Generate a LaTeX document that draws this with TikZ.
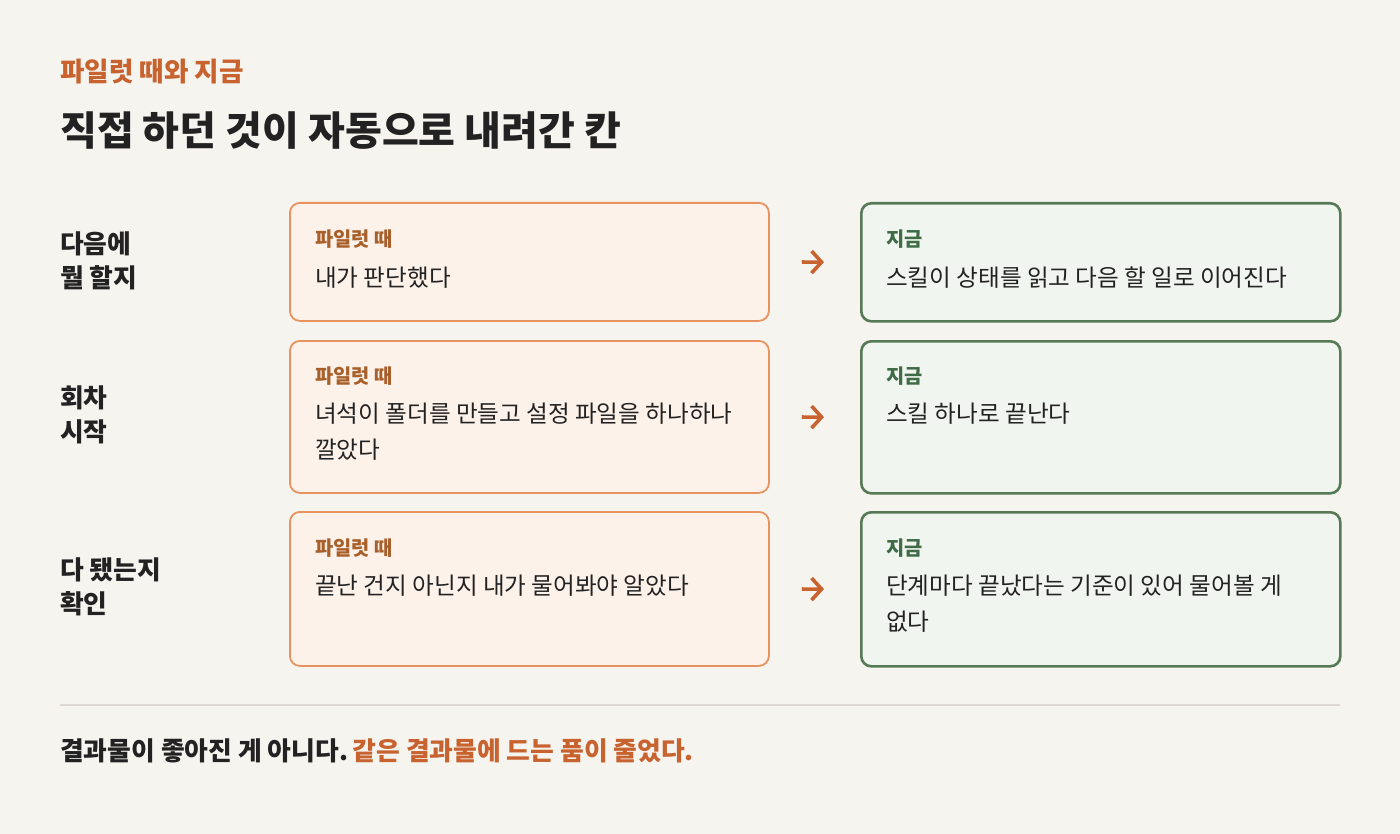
\documentclass[tikz,border=0pt]{standalone}
\usepackage{fontspec}
\setmainfont{Noto Sans CJK KR}
\usetikzlibrary{arrows.meta}
\definecolor{bgc}{HTML}{F6F4EF}
\definecolor{accent}{HTML}{C8632F}
\definecolor{obord}{HTML}{E8935F}
\definecolor{ofill}{HTML}{FDF2EA}
\definecolor{otag}{HTML}{A8602A}
\definecolor{gbord}{HTML}{557A55}
\definecolor{gfill}{HTML}{F1F5EF}
\definecolor{gtag}{HTML}{3F6B47}
\definecolor{ink}{HTML}{222222}
\definecolor{rule}{HTML}{DDD9D2}
\tikzset{
  oldbox/.style={draw=obord, fill=ofill, line width=1.8pt, rounded corners=10pt, anchor=north west, minimum width=479pt, inner sep=0pt},
  newbox/.style={draw=gbord, fill=gfill, line width=2.6pt, rounded corners=10pt, anchor=north west, minimum width=479pt, inner sep=0pt},
  otagt/.style={anchor=west, inner sep=0pt, text=otag, font=\fontsize{19.8}{22}\selectfont\bfseries},
  gtagt/.style={anchor=west, inner sep=0pt, text=gtag, font=\fontsize{19.8}{22}\selectfont\bfseries},
  bodyt/.style={anchor=north west, inner sep=0pt, text=ink, align=left, font=\fontsize{23.6}{36}\selectfont},
  rowlab/.style={anchor=west, inner sep=0pt, text=ink, align=left, font=\fontsize{25.8}{34}\selectfont\bfseries},
  arr/.style={draw=accent, line width=3.6pt, -{Straight Barb[length=10pt, width=22pt, line width=3.6pt]}, shorten <=32pt, shorten >=36pt}
}
\begin{document}
\begin{tikzpicture}[x=1pt, y=-1pt]
\fill[bgc] (0,0) rectangle (1400,834);
\useasboundingbox (0,0) rectangle (1400,834);

\node[anchor=west, inner sep=0pt, text=accent, font=\fontsize{26.6}{30}\selectfont\bfseries] (eyebrow) at (60,72) {파일럿 때와 지금};
\node[anchor=west, inner sep=0pt, text=ink, font=\fontsize{40}{44}\selectfont\bfseries] (title) at (60,131) {직접 하던 것이 자동으로 내려간 칸};

% row 1
\node[oldbox, minimum height=118pt] (L1) at (289,202) {};
\node[newbox, minimum height=118pt] (R1) at (860,202) {};
\node[rowlab] (lab1) at (60,261) {다음에\\뭘 할지};
\node[otagt] (L1t) at ([xshift=26pt, yshift=-37pt]L1.north west) {파일럿 때};
\node[bodyt] (L1b) at ([xshift=26pt, yshift=-65pt]L1.north west) {내가 판단했다};
\node[gtagt] (R1t) at ([xshift=26pt, yshift=-37pt]R1.north west) {지금};
\node[bodyt] (R1b) at ([xshift=26pt, yshift=-65pt]R1.north west) {스킬이 상태를 읽고 다음 할 일로 이어진다};
\draw[arr] (L1.east) -- (R1.west);

% row 2
\node[oldbox, minimum height=152pt] (L2) at (289,340) {};
\node[newbox, minimum height=152pt] (R2) at (860,340) {};
\node[rowlab] (lab2) at (60,415) {회차\\시작};
\node[otagt] (L2t) at ([xshift=26pt, yshift=-36pt]L2.north west) {파일럿 때};
\node[bodyt] (L2b) at ([xshift=26pt, yshift=-63pt]L2.north west) {녀석이 폴더를 만들고 설정 파일을 하나하나\\깔았다};
\node[gtagt] (R2t) at ([xshift=26pt, yshift=-36pt]R2.north west) {지금};
\node[bodyt] (R2b) at ([xshift=26pt, yshift=-63pt]R2.north west) {스킬 하나로 끝난다};
\draw[arr] (L2.east) -- (R2.west);

% row 3
\node[oldbox, minimum height=154pt] (L3) at (289,511) {};
\node[newbox, minimum height=154pt] (R3) at (860,511) {};
\node[rowlab] (lab3) at (60,587) {다 됐는지\\확인};
\node[otagt] (L3t) at ([xshift=26pt, yshift=-37pt]L3.north west) {파일럿 때};
\node[bodyt] (L3b) at ([xshift=26pt, yshift=-64pt]L3.north west) {끝난 건지 아닌지 내가 물어봐야 알았다};
\node[gtagt] (R3t) at ([xshift=26pt, yshift=-37pt]R3.north west) {지금};
\node[bodyt] (R3b) at ([xshift=26pt, yshift=-64pt]R3.north west) {단계마다 끝났다는 기준이 있어 물어볼 게\\없다};
\draw[arr] (L3.east) -- (R3.west);

% divider
\coordinate (d1) at (60,705);
\coordinate (d2) at (1340,705);
\draw[rule, line width=2pt] (d1) -- (d2);

\node[anchor=west, inner sep=0pt, font=\fontsize{25.8}{30}\selectfont\bfseries] (foot) at (60,751) {\textcolor{ink}{결과물이 좋아진 게 아니다.}\hspace{0.18em}\textcolor{accent}{같은 결과물에 드는 품이 줄었다.}};
\end{tikzpicture}
\end{document}
